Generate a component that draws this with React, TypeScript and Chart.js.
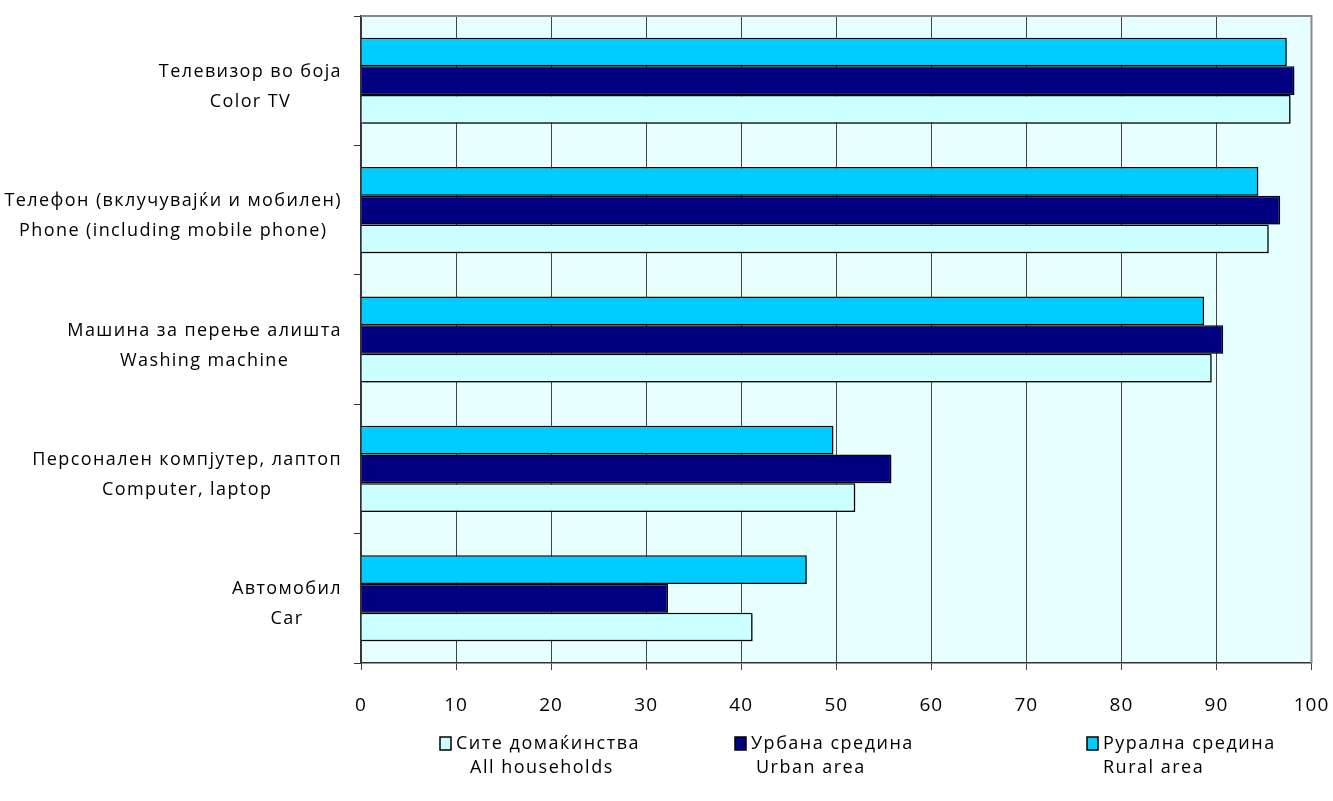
import React, { useEffect, useRef } from 'react';
import { Chart, registerables } from 'chart.js';

Chart.register(...registerables);

const categories: string[][] = [
  ['Телевизор во боја', 'Color TV'],
  ['Телефон (вклучувајќи и мобилен)', 'Phone (including mobile phone)'],
  ['Машина за перење алишта', 'Washing machine'],
  ['Персонален компјутер, лаптоп', 'Computer, laptop'],
  ['Автомобил', 'Car'],
];

const ruralLabel = ['Рурална средина', 'Rural area'];
const urbanLabel = ['Урбана средина', 'Urban area'];
const allLabel = ['Сите домаќинства', 'All households'];

const ruralValues = [97.4, 94.4, 88.7, 49.7, 46.9];
const urbanValues = [98.2, 96.7, 90.7, 55.8, 32.3];
const allValues = [97.8, 95.5, 89.5, 52.0, 41.2];

const xTickValues = [0, 10, 20, 30, 40, 50, 60, 70, 80, 90, 100];

const FONT = '"Open Sans", "Noto Sans", sans-serif';
const SPACING = '1px';

const spacingPlugin = {
  id: 'letterSpacing',
  beforeUpdate(chart: any) {
    chart.ctx.letterSpacing = SPACING;
  },
  beforeDraw(chart: any) {
    chart.ctx.letterSpacing = SPACING;
  },
};

const backgroundPlugin = {
  id: 'plotBackground',
  beforeDraw(chart: any) {
    const { ctx, chartArea } = chart;
    ctx.save();
    ctx.fillStyle = '#E8FFFF';
    ctx.fillRect(chartArea.left, chartArea.top, chartArea.right - chartArea.left, chartArea.bottom - chartArea.top);
    ctx.restore();
  },
  afterDraw(chart: any) {
    const { ctx, chartArea } = chart;
    ctx.save();
    ctx.strokeStyle = '#8a8a8a';
    ctx.lineWidth = 2;
    ctx.beginPath();
    ctx.moveTo(chartArea.left, chartArea.top);
    ctx.lineTo(chartArea.right, chartArea.top);
    ctx.lineTo(chartArea.right, chartArea.bottom);
    ctx.stroke();
    ctx.restore();
  },
};

const shadowPlugin = {
  id: 'barShadow',
  beforeDatasetsDraw(chart: any) {
    const ctx = chart.ctx;
    ctx.save();
    ctx.shadowColor = 'rgba(0,0,0,0.3)';
    ctx.shadowOffsetX = 2;
    ctx.shadowOffsetY = 2;
    ctx.shadowBlur = 0;
  },
  afterDatasetsDraw(chart: any) {
    chart.ctx.restore();
  },
};

const yLabelPlugin = {
  id: 'yLabels',
  afterDraw(chart: any) {
    const { ctx } = chart;
    const yScale = chart.scales.y;
    const labels = chart.data.labels as string[][];
    ctx.save();
    ctx.letterSpacing = '1.4px';
    ctx.font = `18px ${FONT}`;
    ctx.fillStyle = '#000';
    ctx.textAlign = 'center';
    ctx.textBaseline = 'middle';
    const rightEdge = yScale.right - 19;
    labels.forEach((lines, i) => {
      const yc = yScale.getPixelForTick(i) + 6;
      const widths = lines.map((l) => ctx.measureText(l).width);
      const w = Math.max(...widths);
      const cx = rightEdge - w / 2;
      const lh = 30;
      const start = yc - ((lines.length - 1) * lh) / 2;
      lines.forEach((l, j) => ctx.fillText(l, cx, start + j * lh));
    });
    ctx.restore();
  },
};

const legendPlugin = {
  id: 'customLegend',
  afterDraw(chart: any) {
    const { ctx } = chart;
    const order = [2, 1, 0];
    const xs = [440, 735, 1087];
    const indents = [14, 5, 0];
    const y = 744;
    ctx.save();
    ctx.letterSpacing = '1.5px';
    ctx.font = `18px ${FONT}`;
    ctx.textBaseline = 'middle';
    ctx.textAlign = 'left';
    order.forEach((dsIndex, i) => {
      const ds: any = chart.data.datasets[dsIndex];
      const x = xs[i];
      ctx.fillStyle = ds.backgroundColor;
      ctx.fillRect(x, y - 7, 11, 13);
      ctx.strokeStyle = '#000';
      ctx.lineWidth = 1.5;
      ctx.strokeRect(x, y - 7, 11, 13);
      ctx.fillStyle = '#000';
      const lines: string[] = ds.labelLines;
      ctx.fillText(lines[0], x + 16, y);
      ctx.fillText(lines[1], x + 16 + indents[i], y + 24);
    });
    ctx.restore();
  },
};

export default function App() {
  const canvasRef = useRef<HTMLCanvasElement | null>(null);

  useEffect(() => {
    document.body.style.margin = '0';
    const canvas = canvasRef.current;
    if (!canvas) return;
    const chart = new Chart(canvas, {
      type: 'bar',
      data: {
        labels: categories,
        datasets: [
          {
            label: ruralLabel.join(' '),
            labelLines: ruralLabel,
            data: ruralValues,
            backgroundColor: '#00CCFF',
            borderColor: '#000000',
            borderWidth: 1.5,
          } as any,
          {
            label: urbanLabel.join(' '),
            labelLines: urbanLabel,
            data: urbanValues,
            backgroundColor: '#000080',
            borderColor: '#000000',
            borderWidth: 1.5,
          } as any,
          {
            label: allLabel.join(' '),
            labelLines: allLabel,
            data: allValues,
            backgroundColor: '#CCFFFF',
            borderColor: '#000000',
            borderWidth: 1.5,
          } as any,
        ],
      },
      options: {
        indexAxis: 'y',
        responsive: false,
        animation: false,
        devicePixelRatio: 1,
        layout: { autoPadding: false, padding: { top: 16, right: 21.5, bottom: 78, left: 0 } },
        datasets: {
          bar: { categoryPercentage: 0.665, barPercentage: 1 },
        },
        plugins: {
          legend: { display: false },
          tooltip: { enabled: false },
          title: { display: false },
        },
        scales: {
          x: {
            type: 'linear',
            min: 0,
            max: 100,
            afterBuildTicks(scale: any) {
              scale.ticks = xTickValues.map((v) => ({ value: v }));
            },
            afterFit(scale: any) {
              scale.height = 60;
              scale.paddingLeft = 0;
              scale.paddingRight = 0;
            },
            grid: {
              color: '#454545',
              lineWidth: 1,
              drawTicks: true,
              tickLength: 7,
            },
            border: { color: '#333333', width: 1.5 },
            ticks: {
              color: '#000',
              font: { family: FONT, size: 19 },
              padding: 24,
              maxRotation: 0,
            },
          },
          y: {
            type: 'category',
            afterFit(scale: any) {
              scale.width = 361;
              scale.paddingTop = 0;
              scale.paddingBottom = 0;
            },
            grid: {
              drawOnChartArea: false,
              drawTicks: true,
              tickLength: 7,
              color: '#333333',
              offset: true,
            },
            border: { color: '#333333', width: 1.5 },
            ticks: { display: false },
          },
        },
      } as any,
      plugins: [spacingPlugin, backgroundPlugin, shadowPlugin, yLabelPlugin, legendPlugin],
    });
    return () => chart.destroy();
  }, []);

  return (
    <div style={{ width: 1333, height: 801 }}>
      <canvas ref={canvasRef} width={1333} height={801} />
    </div>
  );
}
